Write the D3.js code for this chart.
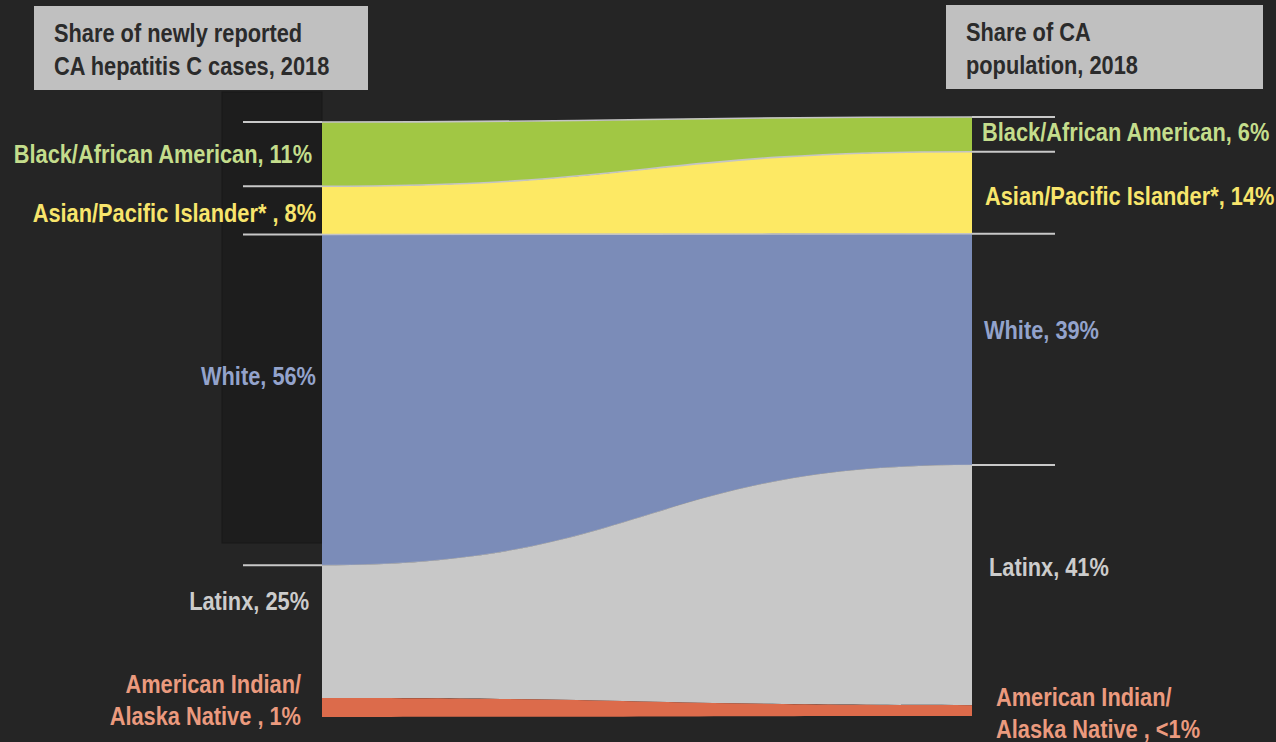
<!DOCTYPE html>
<html><head><meta charset="utf-8">
<script src="https://cdn.jsdelivr.net/npm/d3@7"></script>
<style>html,body{margin:0;padding:0;background:#252525;}svg{display:block;}</style>
</head><body>
<svg id="c" width="1276" height="742"></svg>
<script>
const groups = ["Black/African American","Asian/Pacific Islander","White","Latinx","American Indian/Alaska Native"];
// shares as drawn
const casesShare = [10.8, 8.1, 55.6, 22.3, 3.2];
const popShare   = [5.8, 13.7, 38.6, 40.1, 1.8];
const leftLabels  = [["Black/African American, 11%"],["Asian/Pacific Islander* , 8%"],["White, 56%"],["Latinx, 25%"],["American Indian/","Alaska Native , 1%"]];
const rightLabels = [["Black/African American, 6%"],["Asian/Pacific Islander*, 14%"],["White, 39%"],["Latinx, 41%"],["American Indian/","Alaska Native , <1%"]];
const fills  = ["#a1c744","#fde964","#7b8cb8","#c8c8c8","#dc6b4b"];
const textColors = ["#c4dd8c","#f8e56c","#93a3cc","#cccccc","#eb9a7e"];
const headers = [["Share of newly reported","CA hepatitis C cases, 2018"],["Share of CA","population, 2018"]];

const FONT = "Liberation Sans, Arial, sans-serif";
const FS = 25, SX = 0.872;
const svg = d3.select("#c");
const xL = 322, xR = 972;
const yL = d3.scaleLinear().domain([0,100]).range([122,717]);
const yR = d3.scaleLinear().domain([0,100]).range([117,716]);
const cumL = [0], cumR = [0];
casesShare.forEach((v,i)=>cumL.push(cumL[i]+v));
popShare.forEach((v,i)=>cumR.push(cumR[i]+v));
const sL = cumL[cumL.length-1], sR = cumR[cumR.length-1];
const bL = cumL.map(v=>yL(v/sL*100)), bR = cumR.map(v=>yR(v/sR*100));

svg.append("rect").attr("x",222).attr("y",92).attr("width",100).attr("height",451)
  .attr("fill","#1d1d1d").attr("stroke","#181818");

function txt(x, y, lines, color, anchor, lh){
  const g = svg.append("g").attr("transform",`translate(${x},${y}) scale(${SX},1)`);
  const t = g.append("text").attr("font-family",FONT).attr("font-weight","bold")
    .attr("font-size",FS).attr("fill",color).attr("text-anchor",anchor);
  lines.forEach((ln,j)=>t.append("tspan").attr("x",0).attr("y",j*lh).text(ln));
}

const hb = [{x:34,y:6,w:334,h:84,tx:54},{x:946,y:5,w:317,h:84,tx:966}];
hb.forEach((b,i)=>{
  svg.append("rect").attr("x",b.x).attr("y",b.y).attr("width",b.w).attr("height",b.h).attr("fill","#c0c0c0");
  txt(b.tx, b.y+36, headers[i], "#2b2b2b", "start", 33);
});

function curve(p, y0, y1){ const mx=(xL+xR)/2; p.bezierCurveTo(mx,y0,mx,y1,xR,y1); }
function curveBack(p, y1, y0){ const mx=(xL+xR)/2; p.bezierCurveTo(mx,y1,mx,y0,xL,y0); }

groups.forEach((g,i)=>{
  const p = d3.path();
  p.moveTo(xL,bL[i]); curve(p,bL[i],bR[i]);
  p.lineTo(xR,bR[i+1]); curveBack(p,bR[i+1],bL[i+1]); p.closePath();
  svg.append("path").attr("d",p.toString()).attr("fill",fills[i]);
});

[0,1,2,3].forEach(i=>{
  const p = d3.path();
  p.moveTo(xL,bL[i]); curve(p,bL[i],bR[i]);
  svg.append("path").attr("d",p.toString()).attr("fill","none").attr("stroke","#c4c4c4").attr("stroke-width", i===3?1:1.6).attr("opacity", i===3?0.5:1);
  svg.append("line").attr("x1",243).attr("x2",xL).attr("y1",bL[i]).attr("y2",bL[i]).attr("stroke","#c8c8c8").attr("stroke-width",2);
  svg.append("line").attr("x1",xR).attr("x2",1055).attr("y1",bR[i]).attr("y2",bR[i]).attr("stroke","#c8c8c8").attr("stroke-width",2);
});

const lPos = [{x:312,y:163},{x:316,y:222},{x:316,y:385},{x:309,y:610},{x:301,y:693}];
const rPos = [{x:982,y:141},{x:985,y:205},{x:984,y:339},{x:989,y:576},{x:996,y:706}];
groups.forEach((g,i)=>{
  txt(lPos[i].x, lPos[i].y, leftLabels[i], textColors[i], "end", 32);
  txt(rPos[i].x, rPos[i].y, rightLabels[i], textColors[i], "start", 32);
});
</script>
</body></html>
